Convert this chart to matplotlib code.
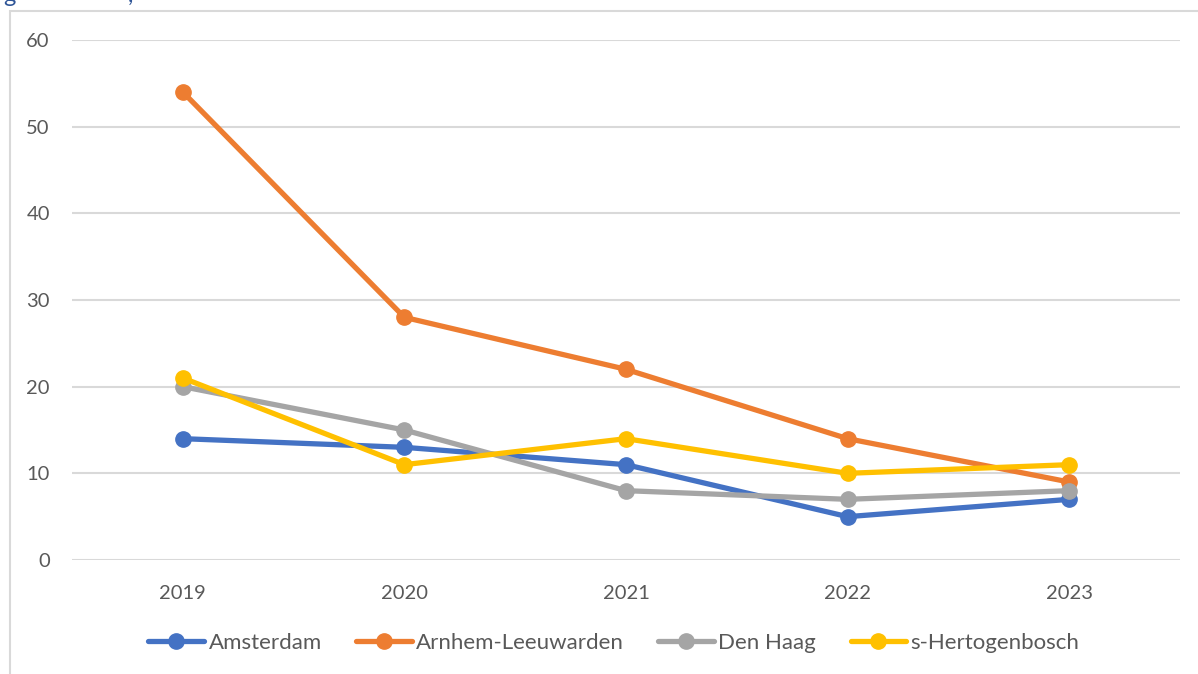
import matplotlib.pyplot as plt
from matplotlib.patches import Rectangle

plt.rcParams['font.family'] = ['Lato', 'DejaVu Sans']

years = ["2019", "2020", "2021", "2022", "2023"]
amsterdam = [14, 13, 11, 5, 7]
arnhem_leeuwarden = [54, 28, 22, 14, 9]
den_haag = [20, 15, 8, 7, 8]
s_hertogenbosch = [21, 11, 14, 10, 11]

series = [
    ("Amsterdam", amsterdam, "#4472C4"),
    ("Arnhem-Leeuwarden", arnhem_leeuwarden, "#ED7D31"),
    ("Den Haag", den_haag, "#A5A5A5"),
    ("s-Hertogenbosch", s_hertogenbosch, "#FFC000"),
]

W, H = 1198, 674
fig = plt.figure(figsize=(W / 100, H / 100), dpi=100)
ax = fig.add_axes([72 / W, 1 - 560 / H, (1180 - 72) / W, (560 - 40) / H])

# chart frame (cut off at right and bottom)
fig.patches.append(Rectangle((10 / W, -0.1), 1.2, 1.1 - 11 / H, transform=fig.transFigure,
                             fill=False, edgecolor="#D9D9D9", linewidth=1.5, zorder=0))
# clipped title remnant at the top
fig.text(3 / W, 1.0 + 4 / H, "g", color="#2F5597", fontsize=17, va="center", ha="left")
fig.text(128 / W, 1.0 + 4 / H, ",", color="#2F5597", fontsize=17, va="center", ha="left")

x = range(len(years))
for name, vals, col in series:
    ax.plot(x, vals, color=col, linewidth=3.8, marker="o", markersize=11,
            label=name, solid_capstyle="round", zorder=3)

ax.set_xlim(-0.5, len(years) - 0.5)
ax.set_ylim(0, 60)
ax.set_yticks(range(0, 61, 10))
ax.set_xticks(list(x))
ax.set_xticklabels(years)
ax.grid(axis="y", color="#D9D9D9", linewidth=1.5)
ax.set_axisbelow(True)
for s in ax.spines.values():
    s.set_visible(False)
ax.tick_params(length=0, labelsize=14.5, labelcolor="#595959")
ax.tick_params(axis="y", pad=16)
ax.tick_params(axis="x", pad=18)

fig.legend(loc="center", bbox_to_anchor=(614 / W, 1 - 643 / H), ncol=4, frameon=False,
           fontsize=16, labelcolor="#595959", handlelength=2.5, handletextpad=0.2,
           columnspacing=1.55)

fig.savefig("out.png", dpi=100)
